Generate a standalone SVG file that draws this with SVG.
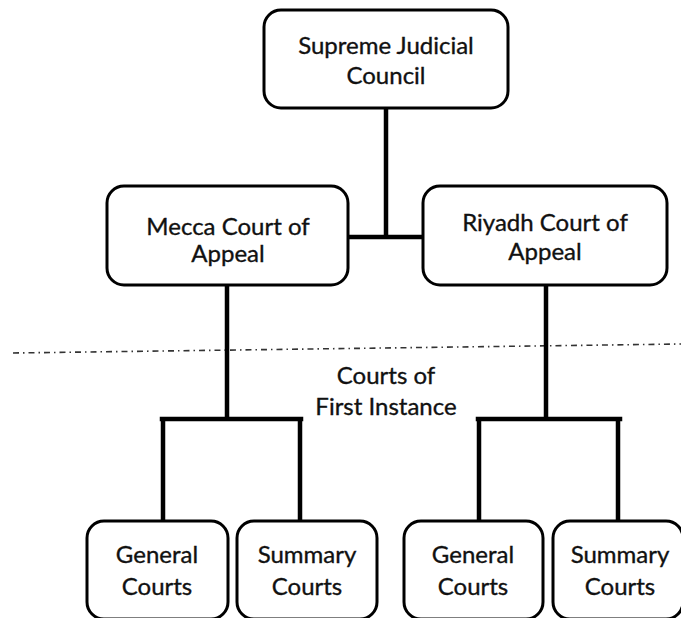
<svg xmlns="http://www.w3.org/2000/svg" width="681" height="618" viewBox="0 0 681 618">
<style>
.box{fill:#fff;stroke:#000;stroke-width:3}
.t{font-family:Lato,"Open Sans","Liberation Sans",sans-serif;font-size:24px;fill:#111;stroke:#111;stroke-width:0.35;text-anchor:middle}
.c{fill:none;stroke:#000;stroke-width:4.5;stroke-linecap:square}
.d{fill:none;stroke:#333;stroke-width:1.6;stroke-dasharray:6 4 1.5 4}
</style>
<rect width="681" height="618" fill="#fff"/>
<line class="d" x1="13" y1="353" x2="681" y2="344"/>
<g id="connectors">
<path class="c" d="M386 108V237M348 237H423"/>
<path class="c" d="M227 285V419M162 419H301M163 419V521M300 419V521"/>
<path class="c" d="M546 285V419M478 419H620M479 419V521M618 419V521"/>
</g>
<g id="supreme">
<rect class="box" x="264" y="10" width="244" height="98" rx="17"/>
<text class="t" x="386" y="54">Supreme Judicial</text>
<text class="t" x="386" y="84">Council</text>
</g>
<g id="mecca">
<rect class="box" x="107" y="186" width="241" height="99" rx="17"/>
<text class="t" x="228" y="235">Mecca Court of</text>
<text class="t" x="228" y="262">Appeal</text>
</g>
<g id="riyadh">
<rect class="box" x="423" y="186" width="244" height="99" rx="17"/>
<text class="t" x="545" y="231">Riyadh Court of</text>
<text class="t" x="545" y="260">Appeal</text>
</g>
<g id="first-instance-label">
<text class="t" x="386" y="384">Courts of</text>
<text class="t" x="386" y="415">First Instance</text>
</g>
<g id="general1">
<rect class="box" x="87" y="521" width="141" height="98" rx="17"/>
<text class="t" x="157" y="563">General</text>
<text class="t" x="157" y="595">Courts</text>
</g>
<g id="summary1">
<rect class="box" x="237" y="521" width="140" height="98" rx="17"/>
<text class="t" x="307" y="563">Summary</text>
<text class="t" x="307" y="595">Courts</text>
</g>
<g id="general2">
<rect class="box" x="404" y="521" width="139" height="98" rx="17"/>
<text class="t" x="473" y="563">General</text>
<text class="t" x="473" y="595">Courts</text>
</g>
<g id="summary2">
<rect class="box" x="553" y="521" width="130" height="98" rx="17"/>
<text class="t" x="620" y="563">Summary</text>
<text class="t" x="620" y="595">Courts</text>
</g>
</svg>
